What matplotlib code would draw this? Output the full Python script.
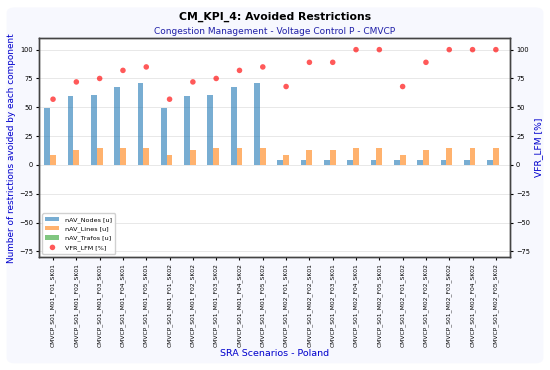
import matplotlib
matplotlib.use("Agg")
import matplotlib.pyplot as plt
import numpy as np
from matplotlib.patches import FancyBboxPatch

scenarios = [
    "CMVCP_S01_M01_F01_SK01", "CMVCP_S01_M01_F02_SK01", "CMVCP_S01_M01_F03_SK01",
    "CMVCP_S01_M01_F04_SK01", "CMVCP_S01_M01_F05_SK01",
    "CMVCP_S01_M01_F01_SK02", "CMVCP_S01_M01_F02_SK02", "CMVCP_S01_M01_F03_SK02",
    "CMVCP_S01_M01_F04_SK02", "CMVCP_S01_M01_F05_SK02",
    "CMVCP_S01_M02_F01_SK01", "CMVCP_S01_M02_F02_SK01", "CMVCP_S01_M02_F03_SK01",
    "CMVCP_S01_M02_F04_SK01", "CMVCP_S01_M02_F05_SK01",
    "CMVCP_S01_M02_F01_SK02", "CMVCP_S01_M02_F02_SK02", "CMVCP_S01_M02_F03_SK02",
    "CMVCP_S01_M02_F04_SK02", "CMVCP_S01_M02_F05_SK02",
]
nav_nodes = [49, 60, 61, 68, 71, 49, 60, 61, 68, 71, 4, 4, 4, 4, 4, 4, 4, 4, 4, 4]
nav_lines = [9, 13, 15, 15, 15, 9, 13, 15, 15, 15, 9, 13, 13, 15, 15, 9, 13, 15, 15, 15]
nav_trafos = [0] * 20
vfr_lfm = [57, 72, 75, 82, 85, 57, 72, 75, 82, 85, 68, 89, 89, 100, 100, 68, 89, 100, 100, 100]

fig = plt.figure(figsize=(5.5, 3.7), dpi=100)
fig.patch.set_facecolor("white")
bg = FancyBboxPatch((0.012, 0.018), 0.976, 0.962, boxstyle="round,pad=0,rounding_size=0.015",
                    transform=fig.transFigure, facecolor="#f7f8fe", edgecolor="none", zorder=-10)
fig.patches.append(bg)

ax = fig.add_axes([0.071, 0.305, 0.856, 0.592])
ax.set_facecolor("white")
x = np.arange(len(scenarios))
w = 0.25
ax.bar(x - w, nav_nodes, w, color="tab:blue", alpha=0.6, label="nAV_Nodes [u]", zorder=2)
ax.bar(x, nav_lines, w, color="tab:orange", alpha=0.6, label="nAV_Lines [u]", zorder=2)
ax.bar(x + w, nav_trafos, w, color="tab:green", alpha=0.6, label="nAV_Trafos [u]", zorder=2)
ax.set_xlim(-0.6, len(scenarios) - 0.4)
ax.set_ylim(-80, 110)
ax.set_yticks([-75, -50, -25, 0, 25, 50, 75, 100])
ax.grid(axis="y", color="#e8e8e8", linewidth=0.7, zorder=0)
ax.set_axisbelow(True)
ax.set_xticks(x)
ax.set_xticklabels(scenarios, rotation=90, fontsize=4.3)
ax.tick_params(axis="y", labelsize=4.8, length=2.5, pad=2)
ax.tick_params(axis="x", length=2.5, pad=2)
ax.set_ylabel("Number of restrictions avoided by each component", color="mediumblue", fontsize=6.4, labelpad=2)
ax.set_xlabel("SRA Scenarios - Poland", color="mediumblue", fontsize=6.8, labelpad=1)
for s in ax.spines.values():
    s.set_color("#444444")
    s.set_linewidth(1.0)

ax2 = ax.twinx()
ax2.scatter(x, vfr_lfm, s=16, color="red", alpha=0.65, label="VFR_LFM [%]", zorder=3, edgecolors="none")
ax2.set_ylim(-80, 110)
ax2.set_yticks([-75, -50, -25, 0, 25, 50, 75, 100])
ax2.tick_params(axis="y", labelsize=4.8, length=2.5, pad=2)
ax2.set_ylabel("VFR_LFM [%]", color="mediumblue", fontsize=6.6, labelpad=3)
for s in ax2.spines.values():
    s.set_color("#444444")
    s.set_linewidth(1.0)

h1, l1 = ax.get_legend_handles_labels()
h2, l2 = ax2.get_legend_handles_labels()
ax2.legend(h1 + h2, l1 + l2, loc="lower left", fontsize=4.6, framealpha=0.9,
           handlelength=2.2, borderpad=0.5, labelspacing=0.5)

fig.text(0.5, 0.955, "CM_KPI_4: Avoided Restrictions", ha="center", va="center",
         fontsize=7.8, fontweight="bold")
fig.text(0.5, 0.915, "Congestion Management - Voltage Control P - CMVCP", ha="center", va="center",
         fontsize=6.5, color="#1f1fa8")

fig.savefig("out.png", dpi=100)
